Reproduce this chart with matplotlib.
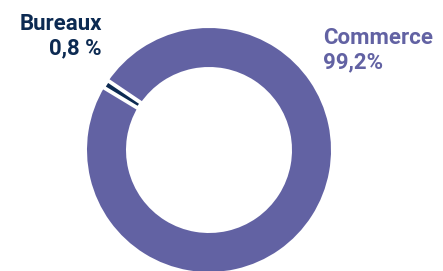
import matplotlib.pyplot as plt
import matplotlib.patheffects as pe

labels = ["Commerce", "Bureaux"]
shares = [99.2, 0.8]
share_text = ["99,2%", "0,8 %"]

purple = "#6262a3"
navy = "#0c2a52"

fig = plt.figure(figsize=(4.43, 2.71), dpi=100)
ax = fig.add_axes([0, 0, 1, 1])

# centre of the bureaux slice sits at about 147 deg
start = 147.4 - 360 * shares[0] / 100 - 360 * shares[1] / 200 + 360
wedges, _ = ax.pie(shares, colors=[purple, navy], startangle=start,
                   center=(209, 121), radius=122,
                   wedgeprops=dict(width=39, linewidth=0))
# white gap around the small slice
wedges[1].set_edgecolor("white")
wedges[1].set_linewidth(1.3)
wedges[1].set_path_effects([pe.Stroke(linewidth=4.2, foreground="white"), pe.Normal()])

ax.set_xlim(0, 443)
ax.set_ylim(0, 271)
ax.set_aspect("equal")
ax.axis("off")

plt.rcParams["font.family"] = ["Roboto", "DejaVu Sans"]
ax.text(102, 217, labels[1] + "\n" + share_text[1], color=navy, fontsize=16,
        fontweight="bold", ha="right", va="baseline", linespacing=1.1,
        multialignment="right")
ax.text(323, 203, labels[0] + "\n" + share_text[0], color=purple, fontsize=16,
        fontweight="bold", ha="left", va="baseline", linespacing=1.1)

fig.savefig("out.png", dpi=100)
